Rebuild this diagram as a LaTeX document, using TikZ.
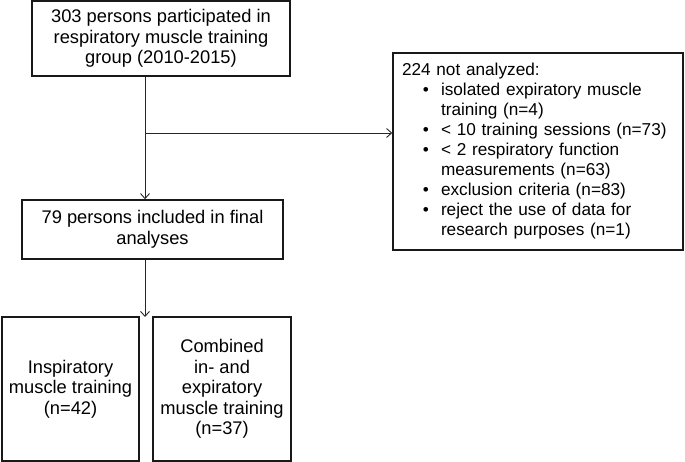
\documentclass[tikz,border=0pt]{standalone}
\usepackage{fontspec}
\setmainfont{Liberation Sans}
\usepackage{enumitem}
\setlist[itemize]{leftmargin=39pt, labelsep=12pt, itemsep=0pt, parsep=0pt, topsep=0pt, partopsep=0pt}
\colorlet{colorBox}{black!90}
\colorlet{colorLink}{black!85}
\usepackage{tikz}
\usetikzlibrary{arrows.meta, positioning}
\tikzset{
  flowbox/.style={draw=colorBox, line width=1.6pt, align=center, inner sep=0pt, font=\fontsize{18.3}{20.5}\selectfont},
  listbox/.style={flowbox, align=left, font=\fontsize{17.2}{20}\selectfont},
  flowlink/.style={draw=colorLink, line width=0.9pt, -{Straight Barb[length=5pt,width=9pt]}},
}

\begin{document}
\begin{tikzpicture}[x=1pt, y=-1pt]
\useasboundingbox (0,0) rectangle (685,462);
\node[flowbox, minimum width=258pt, minimum height=75pt] (participated) at (161,38.5) {303 persons participated in\\respiratory muscle training\\group (2010-2015)};
\node[flowbox, minimum width=261pt, minimum height=59pt] (included) at (152.5,229.5) {79 persons included in final\\analyses};
\node[listbox, text width=272pt, inner xsep=9pt, minimum height=197pt] (excluded) at (538,151.5) {224 not analyzed:
\begin{itemize}
\item isolated expiratory muscle\\training (n=4)
\item < 10 training sessions (n=73)
\item < 2 respiratory function\\measurements (n=63)
\item exclusion criteria (n=83)
\item reject the use of data for\\research purposes (n=1)
\end{itemize}};
\node[flowbox, minimum width=137pt, minimum height=144pt] (inspiratory) at (70.5,389) {Inspiratory\\muscle training\\(n=42)};
\node[flowbox, minimum width=138pt, minimum height=144pt] (combined) at (222,389) {Combined\\in- and\\expiratory\\muscle training\\(n=37)};
\coordinate (spine) at (145,133);
\coordinate (split) at (145,317);
\draw[flowlink] (participated.south -| spine) -- (included.north -| spine);
\draw[flowlink] (spine) -- (spine -| excluded.west);
\draw[flowlink] (included.south -| spine) -- (split);
\end{tikzpicture}
\end{document}
